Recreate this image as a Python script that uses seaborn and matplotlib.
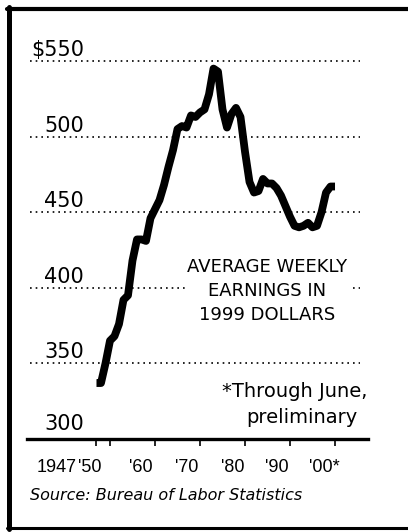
import matplotlib
matplotlib.use('Agg')
import matplotlib.pyplot as plt
import seaborn as sns
from matplotlib.lines import Line2D
from matplotlib.transforms import blended_transform_factory

# ---- data ----
years = [1947, 1948, 1949, 1950, 1951, 1952, 1953, 1954, 1955, 1956,
         1957, 1958, 1959, 1960, 1961, 1962, 1963, 1964, 1965, 1966,
         1967, 1968, 1969, 1970, 1971, 1972, 1973, 1974, 1975, 1976,
         1977, 1978, 1979, 1980, 1981, 1982, 1983, 1984, 1985, 1986,
         1987, 1988, 1989, 1990, 1991, 1992, 1993, 1994, 1995, 1996,
         1997, 1998, 1999, 2000]
earnings = [337, 337, 350, 365, 368, 376, 392, 395, 418, 432,
            432, 431, 446, 452, 458, 468, 480, 491, 505, 507,
            506, 514, 513, 516, 518, 528, 545, 543, 518, 506,
            515, 519, 513, 490, 470, 463, 464, 472, 469, 469,
            466, 461, 454, 447, 441, 440, 441, 443, 440, 441,
            450, 463, 467, 467]

tick_years = [1947, 1950, 1960, 1970, 1980, 1990, 2000]
tick_labels = ["1947", "'50", "'60", "'70", "'80", "'90", "'00*"]
grid_values = [350, 400, 450, 500, 550]
y_values = [300, 350, 400, 450, 500, 550]
y_labels = ["300", "350", "400", "450", "500", "$550"]

title_note = "AVERAGE WEEKLY\nEARNINGS IN\n1999 DOLLARS"
foot_note = ["*Through June,", "preliminary"]
source = "Source: Bureau of Labor Statistics"

# ---- style ----
sns.set_theme(style='white')
plt.rcParams['font.family'] = ['DejaVu Sans']
NARROW = ['Liberation Sans', 'DejaVu Sans']

W, H = 408, 532
fig = plt.figure(figsize=(W / 100, H / 100), dpi=100)
fig.patch.set_facecolor('white')
ax = fig.add_axes([27 / W, 93 / H, 341 / W, 399 / H])
ax.set_facecolor('white')
ax.set_xlim(1931.56, 2007.33)
ax.set_ylim(300, 563.9)

# dotted grid lines
for v in grid_values:
    ax.axhline(v, xmin=0.009, xmax=0.977, color='black', lw=1.2,
               linestyle=(0, (1, 2.4)), zorder=1)

# main line
sns.lineplot(x=years, y=earnings, ax=ax, color='black', linewidth=5.6,
             zorder=3, estimator=None)
for ln in ax.lines[-1:]:
    ln.set_solid_capstyle('butt')
    ln.set_solid_joinstyle('round')

# spines
for s in ['top', 'right', 'left']:
    ax.spines[s].set_visible(False)
ax.spines['bottom'].set_linewidth(2.4)
ax.spines['bottom'].set_color('black')
ax.set_yticks([])
ax.set_xticks(tick_years)
ax.set_xticklabels([])
ax.tick_params(axis='x', direction='out', length=5, width=1.2, color='black',
               bottom=True)
ax.set_xlabel('')
ax.set_ylabel('')

# x tick labels (right-aligned at their ticks)
x_offsets = [-20, -8, -2, -2, -1, -1, 5]
xtrans = blended_transform_factory(ax.transData, ax.transAxes)
for yr, lbl, dx in zip(tick_years, tick_labels, x_offsets):
    ax.annotate(lbl, xy=(yr, 0), xycoords=xtrans, xytext=(dx, -33),
                textcoords='offset pixels', ha='right', va='baseline',
                fontsize=13, family=NARROW, color='black',
                annotation_clip=False)

# y labels above grid lines
ytrans = blended_transform_factory(ax.transAxes, ax.transData)
for v, lbl in zip(y_values, y_labels):
    dy = 9 if v == 300 else 5
    ax.annotate(lbl, xy=(0, v), xycoords=ytrans, xytext=(57, dy),
                textcoords='offset pixels', ha='right', va='baseline',
                fontsize=15, color='black', annotation_clip=False)

# annotation
ax.text(1984.9, 397.9, title_note, ha='center', va='center', fontsize=13,
        linespacing=1.4, color='black', zorder=4,
        bbox=dict(facecolor='white', edgecolor='none', pad=1))

fig.text(367 / W, 1 - 397 / H, foot_note[0], ha='right', va='baseline',
         fontsize=14, color='black')
fig.text(358 / W, 1 - 423 / H, foot_note[1], ha='right', va='baseline',
         fontsize=14, color='black')

fig.text(30 / W, 1 - 500 / H, source, ha='left', va='baseline',
         fontsize=11.5, style='italic', color='black')

# frame
fig.add_artist(Line2D([7 / W, 1], [1 - 9 / H, 1 - 9 / H], lw=3,
                      color='black', transform=fig.transFigure))
fig.add_artist(Line2D([9 / W, 9 / W], [1 - 7 / H, 1 - 529 / H], lw=3.6,
                      color='black', transform=fig.transFigure))
fig.add_artist(Line2D([7 / W, 1], [1 - 528 / H, 1 - 528 / H], lw=2.2,
                      color='black', transform=fig.transFigure))

fig.savefig('out.png', dpi=100, facecolor='white')
